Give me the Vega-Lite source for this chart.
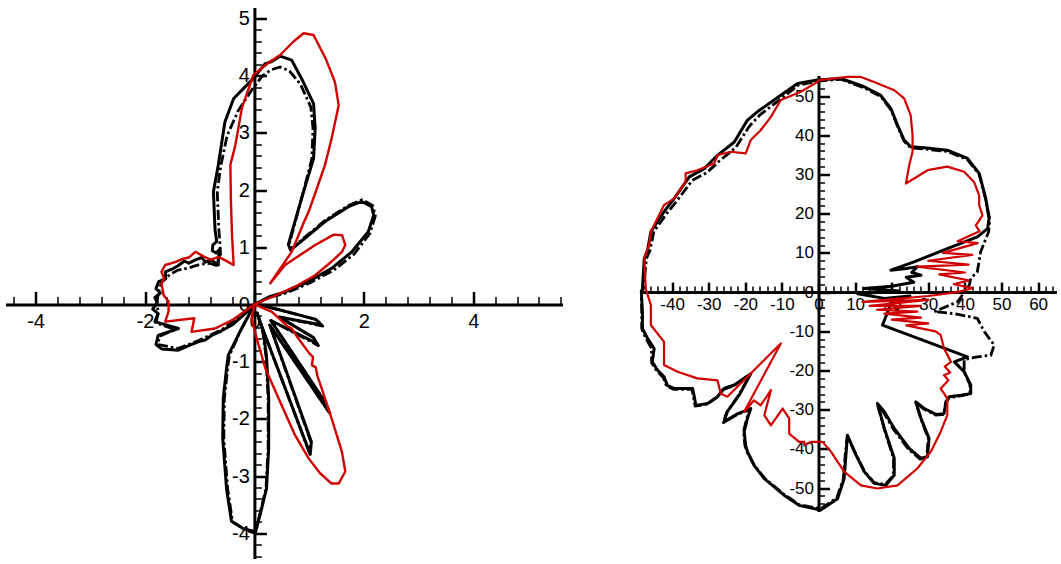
{
"$schema":"https://vega.github.io/schema/vega-lite/v6.json",
"padding":{"left":5.5,"top":7.5,"right":0,"bottom":0},
"config":{"view":{"stroke":null},"axis":{"grid":false}},
"datasets":{
"Ls":[{"x":0,"y":0},{"x":0.26,"y":0.13},{"x":0.56,"y":0.22},{"x":0.99,"y":0.4},{"x":1.41,"y":0.63},{"x":1.78,"y":0.92},{"x":2.08,"y":1.27},{"x":2.18,"y":1.56},{"x":2.14,"y":1.71},{"x":1.96,"y":1.8},{"x":1.72,"y":1.71},{"x":1.29,"y":1.45},{"x":0.9,"y":1.14},{"x":0.66,"y":0.95},{"x":0.62,"y":1.05},{"x":0.86,"y":1.85},{"x":1.08,"y":2.55},{"x":1.11,"y":3.08},{"x":1.08,"y":3.51},{"x":0.86,"y":3.95},{"x":0.68,"y":4.27},{"x":0.47,"y":4.34},{"x":0.3,"y":4.24},{"x":0.2,"y":4.21},{"x":-0.05,"y":3.92},{"x":-0.38,"y":3.6},{"x":-0.54,"y":3.19},{"x":-0.66,"y":2.44},{"x":-0.75,"y":1.97},{"x":-0.72,"y":1.3},{"x":-0.69,"y":1.1},{"x":-0.76,"y":1.04},{"x":-0.77,"y":0.94},{"x":-0.7,"y":0.9},{"x":-0.64,"y":0.96},{"x":-0.66,"y":0.8},{"x":-0.66,"y":0.69},{"x":-0.8,"y":0.78},{"x":-0.9,"y":0.74},{"x":-0.96,"y":0.82},{"x":-1.08,"y":0.78},{"x":-1.2,"y":0.72},{"x":-1.28,"y":0.76},{"x":-1.39,"y":0.68},{"x":-1.5,"y":0.62},{"x":-1.63,"y":0.57},{"x":-1.62,"y":0.45},{"x":-1.75,"y":0.4},{"x":-1.8,"y":0.28},{"x":-1.72,"y":0.2},{"x":-1.82,"y":0.12},{"x":-1.78,"y":0.03},{"x":-1.86,"y":-0.08},{"x":-1.76,"y":-0.16},{"x":-1.82,"y":-0.3},{"x":-1.39,"y":-0.42},{"x":-1.76,"y":-0.54},{"x":-1.8,"y":-0.7},{"x":-1.69,"y":-0.78},{"x":-1.39,"y":-0.8},{"x":-1.2,"y":-0.72},{"x":-1.02,"y":-0.65},{"x":-0.9,"y":-0.62},{"x":-0.78,"y":-0.54},{"x":-0.6,"y":-0.46},{"x":-0.41,"y":-0.36},{"x":-0.17,"y":-0.16},{"x":0,"y":0},{"x":-0.25,"y":-0.45},{"x":-0.48,"y":-0.89},{"x":-0.51,"y":-1.12},{"x":-0.57,"y":-1.64},{"x":-0.58,"y":-2.34},{"x":-0.51,"y":-3.22},{"x":-0.42,"y":-3.79},{"x":-0.2,"y":-3.92},{"x":0.02,"y":-3.97},{"x":0.11,"y":-3.65},{"x":0.22,"y":-3.22},{"x":0.26,"y":-2.52},{"x":0.26,"y":-1.64},{"x":0.22,"y":-0.9},{"x":0.16,"y":-0.47},{"x":0.05,"y":-0.15},{"x":0.14,"y":-0.4},{"x":1.02,"y":-2.62},{"x":1.04,"y":-2.4},{"x":0.28,"y":-0.36},{"x":1.36,"y":-1.88},{"x":1.3,"y":-1.72},{"x":0.3,"y":-0.28},{"x":1.14,"y":-0.68},{"x":1.08,"y":-0.58},{"x":0.45,"y":-0.22},{"x":1.23,"y":-0.36},{"x":1.12,"y":-0.26},{"x":0.4,"y":-0.08},{"x":0.05,"y":0}],
"Ld":[{"x":0,"y":0},{"x":0.27,"y":0.12},{"x":0.58,"y":0.2},{"x":1.02,"y":0.38},{"x":1.45,"y":0.6},{"x":1.82,"y":0.88},{"x":2.11,"y":1.24},{"x":2.21,"y":1.55},{"x":2.16,"y":1.73},{"x":1.97,"y":1.83},{"x":1.72,"y":1.73},{"x":1.29,"y":1.47},{"x":0.9,"y":1.16},{"x":0.68,"y":0.97},{"x":0.64,"y":1.07},{"x":0.86,"y":1.85},{"x":1.05,"y":2.55},{"x":1.07,"y":3.08},{"x":1.03,"y":3.45},{"x":0.84,"y":3.85},{"x":0.64,"y":4.08},{"x":0.47,"y":4.15},{"x":0.3,"y":4.1},{"x":0.15,"y":4.0},{"x":-0.05,"y":3.75},{"x":-0.3,"y":3.38},{"x":-0.5,"y":2.95},{"x":-0.62,"y":2.4},{"x":-0.68,"y":1.97},{"x":-0.65,"y":1.3},{"x":-0.63,"y":1.05},{"x":-0.62,"y":0.88},{"x":-0.7,"y":0.68},{"x":-0.82,"y":0.72},{"x":-1.0,"y":0.7},{"x":-1.2,"y":0.64},{"x":-1.4,"y":0.6},{"x":-1.55,"y":0.52},{"x":-1.7,"y":0.38},{"x":-1.76,"y":0.2},{"x":-1.78,"y":0.02},{"x":-1.76,"y":-0.15},{"x":-1.8,"y":-0.32},{"x":-1.45,"y":-0.44},{"x":-1.74,"y":-0.56},{"x":-1.76,"y":-0.7},{"x":-1.4,"y":-0.77},{"x":-1.02,"y":-0.63},{"x":-0.6,"y":-0.44},{"x":-0.17,"y":-0.15},{"x":0,"y":0},{"x":-0.25,"y":-0.45},{"x":-0.46,"y":-0.9},{"x":-0.49,"y":-1.12},{"x":-0.55,"y":-1.64},{"x":-0.56,"y":-2.34},{"x":-0.49,"y":-3.22},{"x":-0.4,"y":-3.8},{"x":-0.15,"y":-3.95},{"x":0.02,"y":-4.0},{"x":0.1,"y":-3.65},{"x":0.21,"y":-3.22},{"x":0.25,"y":-2.52},{"x":0.25,"y":-1.64},{"x":0.21,"y":-0.9},{"x":0.15,"y":-0.47},{"x":0.05,"y":-0.15},{"x":0.14,"y":-0.4},{"x":1.0,"y":-2.58},{"x":1.03,"y":-2.4},{"x":0.28,"y":-0.36},{"x":1.38,"y":-1.9},{"x":1.3,"y":-1.72},{"x":0.3,"y":-0.28},{"x":1.17,"y":-0.72},{"x":1.08,"y":-0.58},{"x":0.45,"y":-0.22},{"x":1.25,"y":-0.38},{"x":1.12,"y":-0.26},{"x":0.4,"y":-0.08},{"x":0.05,"y":0}],
"Lr":[{"x":0,"y":0},{"x":0.32,"y":0.13},{"x":0.74,"y":0.31},{"x":1.11,"y":0.51},{"x":1.41,"y":0.75},{"x":1.6,"y":0.92},{"x":1.66,"y":1.04},{"x":1.6,"y":1.21},{"x":1.45,"y":1.22},{"x":1.11,"y":1.04},{"x":0.56,"y":0.69},{"x":0.29,"y":0.37},{"x":0.68,"y":0.92},{"x":0.91,"y":1.45},{"x":0.99,"y":1.62},{"x":1.12,"y":1.97},{"x":1.29,"y":2.44},{"x":1.41,"y":2.9},{"x":1.54,"y":3.48},{"x":1.47,"y":3.89},{"x":1.3,"y":4.3},{"x":1.08,"y":4.71},{"x":0.9,"y":4.74},{"x":0.72,"y":4.6},{"x":0.47,"y":4.36},{"x":0.25,"y":4.22},{"x":-0.02,"y":4.01},{"x":-0.23,"y":3.43},{"x":-0.35,"y":2.78},{"x":-0.44,"y":2.44},{"x":-0.43,"y":1.8},{"x":-0.41,"y":1.21},{"x":-0.38,"y":0.69},{"x":-0.55,"y":0.78},{"x":-0.66,"y":0.83},{"x":-0.8,"y":0.78},{"x":-0.95,"y":0.85},{"x":-1.08,"y":0.92},{"x":-1.2,"y":0.82},{"x":-1.3,"y":0.8},{"x":-1.45,"y":0.74},{"x":-1.63,"y":0.69},{"x":-1.7,"y":0.57},{"x":-1.65,"y":0.45},{"x":-1.7,"y":0.37},{"x":-1.66,"y":0.16},{"x":-1.57,"y":0.05},{"x":-1.57,"y":-0.12},{"x":-1.63,"y":-0.3},{"x":-1.1,"y":-0.24},{"x":-1.15,"y":-0.48},{"x":-0.72,"y":-0.42},{"x":-0.4,"y":-0.27},{"x":-0.15,"y":-0.1},{"x":0,"y":0},{"x":-0.05,"y":-0.24},{"x":0.04,"y":-0.59},{"x":0.2,"y":-1.12},{"x":0.44,"y":-1.64},{"x":0.74,"y":-2.28},{"x":0.99,"y":-2.69},{"x":1.2,"y":-2.95},{"x":1.41,"y":-3.13},{"x":1.54,"y":-3.13},{"x":1.66,"y":-2.92},{"x":1.6,"y":-2.58},{"x":1.41,"y":-1.99},{"x":1.23,"y":-1.47},{"x":1.15,"y":-1.25},{"x":1.12,"y":-1.1},{"x":1.05,"y":-1.06},{"x":1.07,"y":-0.92},{"x":1.0,"y":-0.85},{"x":0.8,"y":-0.59},{"x":0.68,"y":-0.42},{"x":0.6,"y":-0.38},{"x":0.32,"y":-0.13},{"x":0,"y":0}],
"Rs":[{"x":-0.3,"y":54.1},{"x":6.1,"y":54.5},{"x":12.5,"y":52.4},{"x":17.0,"y":50.2},{"x":19.8,"y":46.8},{"x":21.6,"y":42.6},{"x":23.4,"y":38.8},{"x":25.2,"y":37.1},{"x":28.9,"y":36.8},{"x":35.2,"y":36.2},{"x":40.7,"y":34.1},{"x":43.9,"y":30.3},{"x":45.7,"y":23.9},{"x":46.6,"y":18.8},{"x":46.2,"y":16.2},{"x":43.4,"y":14.1},{"x":35.2,"y":11.1},{"x":26.1,"y":7.7},{"x":19.8,"y":5.6},{"x":24.0,"y":6.0},{"x":27.0,"y":6.5},{"x":25.5,"y":5.0},{"x":28.0,"y":4.3},{"x":24.0,"y":3.8},{"x":26.0,"y":2.5},{"x":20.0,"y":1.5},{"x":12.5,"y":0.9},{"x":22.0,"y":0.3},{"x":10.7,"y":-0.4},{"x":18.0,"y":-1.6},{"x":25.0,"y":-1.0},{"x":20.0,"y":-2.5},{"x":17.5,"y":-8.4},{"x":40.7,"y":-16.5},{"x":37.1,"y":-17.8},{"x":39.8,"y":-20.3},{"x":41.6,"y":-23.7},{"x":41.6,"y":-25.9},{"x":38.9,"y":-26.3},{"x":35.7,"y":-26.7},{"x":34.8,"y":-28.0},{"x":34.3,"y":-31.0},{"x":32.1,"y":-31.2},{"x":28.9,"y":-29.7},{"x":26.6,"y":-28.0},{"x":28.0,"y":-32.2},{"x":30.2,"y":-37.3},{"x":29.8,"y":-42.0},{"x":28.0,"y":-42.4},{"x":24.8,"y":-39.9},{"x":20.7,"y":-34.8},{"x":18.0,"y":-30.5},{"x":16.1,"y":-28.4},{"x":18.0,"y":-34.8},{"x":20.7,"y":-42.4},{"x":20.7,"y":-46.7},{"x":18.4,"y":-49.3},{"x":15.2,"y":-48.8},{"x":12.5,"y":-45.8},{"x":9.8,"y":-40.7},{"x":7.9,"y":-36.5},{"x":7.5,"y":-41.6},{"x":7.0,"y":-47.6},{"x":5.2,"y":-52.7},{"x":0.6,"y":-55.6},{"x":-5.3,"y":-54.4},{"x":-9.4,"y":-51.8},{"x":-14.8,"y":-47.6},{"x":-17.6,"y":-44.2},{"x":-19.4,"y":-40.7},{"x":-19.9,"y":-39.1},{"x":-20.3,"y":-35.6},{"x":-19.4,"y":-32.2},{"x":-18.5,"y":-29.7},{"x":-22.0,"y":-31.0},{"x":-25.8,"y":-33.1},{"x":-24.9,"y":-30.5},{"x":-21.5,"y":-26.0},{"x":-18.5,"y":-20.8},{"x":-23.0,"y":-23.7},{"x":-25.8,"y":-24.6},{"x":-27.6,"y":-26.7},{"x":-30.3,"y":-28.4},{"x":-33.5,"y":-28.9},{"x":-34.0,"y":-26.3},{"x":-34.4,"y":-24.6},{"x":-39.4,"y":-24.6},{"x":-41.3,"y":-23.8},{"x":-42.2,"y":-21.6},{"x":-44.0,"y":-19.9},{"x":-45.4,"y":-17.8},{"x":-44.9,"y":-14.4},{"x":-46.7,"y":-11.8},{"x":-48.1,"y":-9.3},{"x":-48.1,"y":-5.0},{"x":-48.4,"y":0.1},{"x":-48.1,"y":0.9},{"x":-47.6,"y":8.6},{"x":-46.7,"y":10.7},{"x":-45.8,"y":15.4},{"x":-42.2,"y":20.5},{"x":-39.4,"y":23.9},{"x":-35.3,"y":29.4},{"x":-31.2,"y":31.5},{"x":-27.6,"y":34.9},{"x":-23.0,"y":38.3},{"x":-19.4,"y":43.9},{"x":-16.7,"y":46.0},{"x":-10.3,"y":50.2},{"x":-5.7,"y":53.2},{"x":-0.3,"y":54.1}],
"Rd":[{"x":-0.3,"y":53.8},{"x":6.1,"y":54.3},{"x":12.5,"y":52.1},{"x":17.0,"y":49.9},{"x":19.8,"y":46.5},{"x":21.6,"y":42.3},{"x":23.4,"y":38.5},{"x":25.2,"y":36.8},{"x":28.9,"y":36.5},{"x":35.2,"y":35.9},{"x":40.7,"y":33.8},{"x":43.9,"y":30.0},{"x":45.7,"y":23.6},{"x":46.8,"y":18.5},{"x":46.5,"y":15.4},{"x":44.3,"y":10.3},{"x":43.4,"y":5.2},{"x":41.6,"y":3.5},{"x":41.2,"y":1.8},{"x":38.0,"y":-2.5},{"x":31.6,"y":-5.0},{"x":37.1,"y":-5.5},{"x":43.4,"y":-6.7},{"x":45.3,"y":-10.1},{"x":48.0,"y":-13.5},{"x":47.1,"y":-16.1},{"x":43.4,"y":-16.5},{"x":39.8,"y":-17.2},{"x":39.8,"y":-20.3},{"x":41.4,"y":-23.7},{"x":41.4,"y":-25.9},{"x":38.9,"y":-26.5},{"x":35.7,"y":-26.9},{"x":34.8,"y":-28.2},{"x":34.3,"y":-31.2},{"x":32.1,"y":-31.4},{"x":28.9,"y":-29.9},{"x":26.6,"y":-28.2},{"x":28.0,"y":-32.4},{"x":30.0,"y":-37.3},{"x":29.6,"y":-42.0},{"x":27.8,"y":-42.6},{"x":24.6,"y":-40.1},{"x":20.5,"y":-35.0},{"x":17.8,"y":-30.7},{"x":16.1,"y":-28.6},{"x":18.0,"y":-35.0},{"x":20.5,"y":-42.4},{"x":20.5,"y":-46.7},{"x":18.2,"y":-49.1},{"x":15.2,"y":-48.6},{"x":12.5,"y":-45.6},{"x":9.8,"y":-40.5},{"x":7.9,"y":-36.7},{"x":7.3,"y":-41.6},{"x":6.8,"y":-47.6},{"x":5.0,"y":-52.5},{"x":0.6,"y":-55.3},{"x":-5.3,"y":-54.2},{"x":-9.4,"y":-51.6},{"x":-14.8,"y":-47.4},{"x":-17.6,"y":-44.0},{"x":-19.6,"y":-40.7},{"x":-20.1,"y":-39.1},{"x":-20.5,"y":-35.6},{"x":-19.6,"y":-32.2},{"x":-18.7,"y":-29.9},{"x":-22.2,"y":-31.2},{"x":-26.0,"y":-33.3},{"x":-25.1,"y":-30.7},{"x":-21.7,"y":-26.2},{"x":-18.7,"y":-21.0},{"x":-23.2,"y":-23.9},{"x":-26.0,"y":-24.8},{"x":-27.8,"y":-26.9},{"x":-30.5,"y":-28.6},{"x":-33.7,"y":-29.1},{"x":-34.2,"y":-26.5},{"x":-34.6,"y":-24.8},{"x":-39.6,"y":-24.8},{"x":-41.5,"y":-24.0},{"x":-42.4,"y":-21.8},{"x":-44.2,"y":-20.1},{"x":-45.6,"y":-18.0},{"x":-45.6,"y":-14.4},{"x":-47.2,"y":-11.8},{"x":-48.3,"y":-9.3},{"x":-48.3,"y":-5.0},{"x":-48.4,"y":0.1},{"x":-47.8,"y":0.9},{"x":-47.0,"y":8.6},{"x":-46.0,"y":10.7},{"x":-45.0,"y":15.4},{"x":-41.5,"y":20.0},{"x":-38.5,"y":23.5},{"x":-34.5,"y":28.5},{"x":-30.5,"y":30.5},{"x":-27.0,"y":33.5},{"x":-22.5,"y":37.0},{"x":-19.0,"y":42.2},{"x":-16.0,"y":45.2},{"x":-10.0,"y":49.5},{"x":-5.5,"y":52.8},{"x":-0.3,"y":53.8}],
"Rr":[{"x":-0.3,"y":53.6},{"x":0.2,"y":54.1},{"x":7.9,"y":54.9},{"x":11.6,"y":54.9},{"x":15.2,"y":53.6},{"x":20.7,"y":51.5},{"x":23.4,"y":49.4},{"x":25.2,"y":45.1},{"x":25.7,"y":40.0},{"x":25.7,"y":35.8},{"x":24.8,"y":32.4},{"x":23.9,"y":27.7},{"x":29.8,"y":31.1},{"x":35.2,"y":32.0},{"x":39.8,"y":30.7},{"x":42.5,"y":28.1},{"x":43.9,"y":24.7},{"x":43.9,"y":22.2},{"x":44.8,"y":19.6},{"x":43.0,"y":17.0},{"x":44.0,"y":15.5},{"x":38.0,"y":13.0},{"x":43.5,"y":12.5},{"x":34.0,"y":10.0},{"x":42.0,"y":9.5},{"x":30.0,"y":8.0},{"x":41.0,"y":7.0},{"x":27.0,"y":6.5},{"x":40.0,"y":5.0},{"x":33.0,"y":4.5},{"x":41.0,"y":3.0},{"x":37.0,"y":2.0},{"x":42.0,"y":1.0},{"x":38.0,"y":0.0},{"x":30.0,"y":-1.0},{"x":12.0,"y":-2.5},{"x":30.0,"y":-2.0},{"x":14.0,"y":-3.5},{"x":28.0,"y":-3.5},{"x":16.0,"y":-4.5},{"x":27.0,"y":-5.0},{"x":18.0,"y":-5.5},{"x":28.0,"y":-6.5},{"x":20.0,"y":-7.0},{"x":30.0,"y":-8.0},{"x":24.0,"y":-8.5},{"x":32.0,"y":-10.0},{"x":33.4,"y":-11.0},{"x":34.3,"y":-14.4},{"x":36.2,"y":-17.8},{"x":34.5,"y":-19.0},{"x":36.0,"y":-20.5},{"x":34.3,"y":-21.2},{"x":35.5,"y":-22.5},{"x":33.4,"y":-24.6},{"x":35.2,"y":-27.1},{"x":35.2,"y":-31.4},{"x":33.4,"y":-35.6},{"x":30.7,"y":-40.7},{"x":27.0,"y":-45.0},{"x":21.6,"y":-49.3},{"x":16.1,"y":-50.1},{"x":11.6,"y":-49.3},{"x":7.0,"y":-45.8},{"x":3.4,"y":-40.7},{"x":1.1,"y":-38.2},{"x":-2.1,"y":-38.2},{"x":-3.9,"y":-39.1},{"x":-3.9,"y":-38.2},{"x":-5.3,"y":-38.2},{"x":-8.0,"y":-36.1},{"x":-8.0,"y":-32.2},{"x":-9.8,"y":-29.7},{"x":-13.0,"y":-34.0},{"x":-14.8,"y":-31.4},{"x":-13.0,"y":-25.0},{"x":-15.8,"y":-28.9},{"x":-17.6,"y":-27.6},{"x":-20.3,"y":-30.5},{"x":-10.3,"y":-13.1},{"x":-24.9,"y":-26.7},{"x":-26.7,"y":-25.9},{"x":-27.6,"y":-22.5},{"x":-33.1,"y":-22.0},{"x":-38.5,"y":-20.3},{"x":-42.2,"y":-18.6},{"x":-42.2,"y":-12.7},{"x":-45.8,"y":-8.4},{"x":-45.8,"y":-3.3},{"x":-47.2,"y":0.9},{"x":-47.6,"y":8.6},{"x":-46.3,"y":12.0},{"x":-45.8,"y":15.4},{"x":-42.2,"y":22.2},{"x":-39.4,"y":23.9},{"x":-36.3,"y":28.1},{"x":-36.3,"y":30.3},{"x":-33.1,"y":31.1},{"x":-28.5,"y":32.8},{"x":-27.6,"y":34.9},{"x":-24.0,"y":35.8},{"x":-19.9,"y":35.4},{"x":-18.5,"y":38.8},{"x":-15.8,"y":41.3},{"x":-13.0,"y":44.7},{"x":-10.3,"y":49.0},{"x":-4.8,"y":51.1},{"x":-0.3,"y":53.6}]
},
"spacing":76,
"hconcat":[
{
"width":557,"height":551,
"resolve":{"axis":{"x":"independent","y":"independent"}},
"layer":[
{"data":{"name":"Ls"},"mark":{"type":"line","color":"#000000","strokeWidth":3,"strokeJoin":"round"},
"encoding":{
"x":{"field":"x","type":"quantitative","scale":{"domain":[-4.55,5.63],"nice":false,"zero":false},"axis":{"orient":"top","offset":-296.9,"values":[-4,-2,0,2,4],"tickSize":13,"tickWidth":2.5,"tickColor":"#000000","labels":false,"domain":true,"domainWidth":3,"domainColor":"#000000","grid":false,"title":null}},
"y":{"field":"y","type":"quantitative","scale":{"domain":[-4.44,5.19],"nice":false,"zero":false},"axis":{"orient":"right","offset":-308.1,"values":[-4,-3,-2,-1,0,1,2,3,4,5],"tickSize":12,"tickWidth":2.5,"tickColor":"#000000","labels":false,"domain":true,"domainWidth":3,"domainColor":"#000000","grid":false,"title":null}},
"order":{"value":null}}},
{"data":{"name":"Ld"},"mark":{"type":"line","color":"#000000","strokeWidth":2.8,"strokeDash":[10,3,2.5,3],"strokeJoin":"round"},
"encoding":{
"x":{"field":"x","type":"quantitative","axis":null},
"y":{"field":"y","type":"quantitative","axis":null},
"order":{"value":null}}},
{"data":{"name":"Lr"},"mark":{"type":"line","color":"#d00000","strokeWidth":2.4,"strokeJoin":"round"},
"encoding":{
"x":{"field":"x","type":"quantitative","axis":null},
"y":{"field":"y","type":"quantitative","axis":null},
"order":{"value":null}}},
{"data":{"name":"Ls"},"mark":{"type":"point","opacity":0},
"encoding":{
"x":{"field":"x","type":"quantitative","axis":{"orient":"top","offset":-296.9,"values":[-4.4,-4,-3.6,-3.2,-2.8,-2.4,-2,-1.6,-1.2,-0.8,-0.4,0,0.4,0.8,1.2,1.6,2,2.4,2.8,3.2,3.6,4,4.4,4.8,5.2,5.6],"tickSize":8,"tickWidth":1.5,"tickColor":"#000000","labels":false,"domain":false,"grid":false,"title":null}},
"y":{"field":"y","type":"quantitative","axis":{"orient":"right","offset":-308.1,"values":[-4.4,-4.2,-4,-3.8,-3.6,-3.4,-3.2,-3,-2.8,-2.6,-2.4,-2.2,-2,-1.8,-1.6,-1.4,-1.2,-1,-0.8,-0.6,-0.4,-0.2,0,0.2,0.4,0.6,0.8,1,1.2,1.4,1.6,1.8,2,2.2,2.4,2.6,2.8,3,3.2,3.4,3.6,3.8,4,4.2,4.4,4.6,4.8,5],"tickSize":7,"tickWidth":1.5,"tickColor":"#000000","labels":false,"domain":false,"grid":false,"title":null}}}},
{"data":{"name":"Ls"},"mark":{"type":"point","opacity":0},
"encoding":{
"x":{"field":"x","type":"quantitative","axis":{"orient":"bottom","offset":-254.1,"values":[-4,-2,0,2,4],"ticks":false,"domain":false,"labelFont":"Liberation Sans","labelFontSize":20,"labelColor":"#000000","labelPadding":7,"labelFlush":false,"labelOverlap":false,"labelExpr":"''+datum.value","grid":false,"title":null}},
"y":{"field":"y","type":"quantitative","axis":{"orient":"left","offset":-248.9,"values":[-4,-3,-2,-1,0,1,2,3,4,5],"ticks":false,"domain":false,"labelFont":"Liberation Sans","labelFontSize":20,"labelColor":"#000000","labelPadding":5,"labelFlush":false,"labelOverlap":false,"labelExpr":"''+datum.value","grid":false,"title":null}}}}
]
},
{
"spacing":0,
"vconcat":[
{"width":416,"height":68,"data":{"values":[]},"mark":"point"},
{
"width":416,"height":436,
"resolve":{"axis":{"x":"independent","y":"independent"}},
"layer":[
{"data":{"name":"Rs"},"mark":{"type":"line","color":"#000000","strokeWidth":3,"strokeJoin":"round"},
"encoding":{
"x":{"field":"x","type":"quantitative","scale":{"domain":[-48.63,65.03],"nice":false,"zero":false},"axis":{"orient":"top","offset":-216.6,"values":[-40,-30,-20,-10,0,10,20,30,40,50,60],"tickSize":10,"tickWidth":2.5,"tickColor":"#000000","labels":false,"domain":true,"domainWidth":3,"domainColor":"#000000","grid":false,"title":null}},
"y":{"field":"y","type":"quantitative","scale":{"domain":[-55.97,55.26],"nice":false,"zero":false},"axis":{"orient":"right","offset":-238,"values":[-50,-40,-30,-20,-10,0,10,20,30,40,50],"tickSize":11,"tickWidth":2.5,"tickColor":"#000000","labels":false,"domain":true,"domainWidth":3,"domainColor":"#000000","grid":false,"title":null}},
"order":{"value":null}}},
{"data":{"name":"Rd"},"mark":{"type":"line","color":"#000000","strokeWidth":2.8,"strokeDash":[10,3,2.5,3],"strokeJoin":"round"},
"encoding":{
"x":{"field":"x","type":"quantitative","axis":null},
"y":{"field":"y","type":"quantitative","axis":null},
"order":{"value":null}}},
{"data":{"name":"Rr"},"mark":{"type":"line","color":"#d00000","strokeWidth":2.2,"strokeJoin":"round"},
"encoding":{
"x":{"field":"x","type":"quantitative","axis":null},
"y":{"field":"y","type":"quantitative","axis":null},
"order":{"value":null}}},
{"data":{"name":"Rs"},"mark":{"type":"point","opacity":0},
"encoding":{
"x":{"field":"x","type":"quantitative","axis":{"orient":"top","offset":-216.6,"values":[-48,-46,-44,-42,-40,-38,-36,-34,-32,-30,-28,-26,-24,-22,-20,-18,-16,-14,-12,-10,-8,-6,-4,-2,0,2,4,6,8,10,12,14,16,18,20,22,24,26,28,30,32,34,36,38,40,42,44,46,48,50,52,54,56,58,60,62,64],"tickSize":6,"tickWidth":1.5,"tickColor":"#000000","labels":false,"domain":false,"grid":false,"title":null}},
"y":{"field":"y","type":"quantitative","axis":{"orient":"right","offset":-238,"values":[-54,-52,-50,-48,-46,-44,-42,-40,-38,-36,-34,-32,-30,-28,-26,-24,-22,-20,-18,-16,-14,-12,-10,-8,-6,-4,-2,0,2,4,6,8,10,12,14,16,18,20,22,24,26,28,30,32,34,36,38,40,42,44,46,48,50,52,54],"tickSize":6,"tickWidth":1.5,"tickColor":"#000000","labels":false,"domain":false,"grid":false,"title":null}}}},
{"data":{"name":"Rs"},"mark":{"type":"point","opacity":0},
"encoding":{
"x":{"field":"x","type":"quantitative","axis":{"orient":"bottom","offset":-219.4,"values":[-40,-30,-20,-10,0,10,20,30,40,50,60],"ticks":false,"domain":false,"labelFont":"Liberation Sans","labelFontSize":17,"labelColor":"#000000","labelPadding":4,"labelFlush":false,"labelOverlap":false,"labelExpr":"''+datum.value","grid":false,"title":null}},
"y":{"field":"y","type":"quantitative","axis":{"orient":"left","offset":-178,"values":[-50,-40,-30,-20,-10,0,10,20,30,40,50],"ticks":false,"domain":false,"labelFont":"Liberation Sans","labelFontSize":17,"labelColor":"#000000","labelPadding":5,"labelFlush":false,"labelOverlap":false,"labelExpr":"''+datum.value","grid":false,"title":null}}}}
]
}
]
}
]
}
